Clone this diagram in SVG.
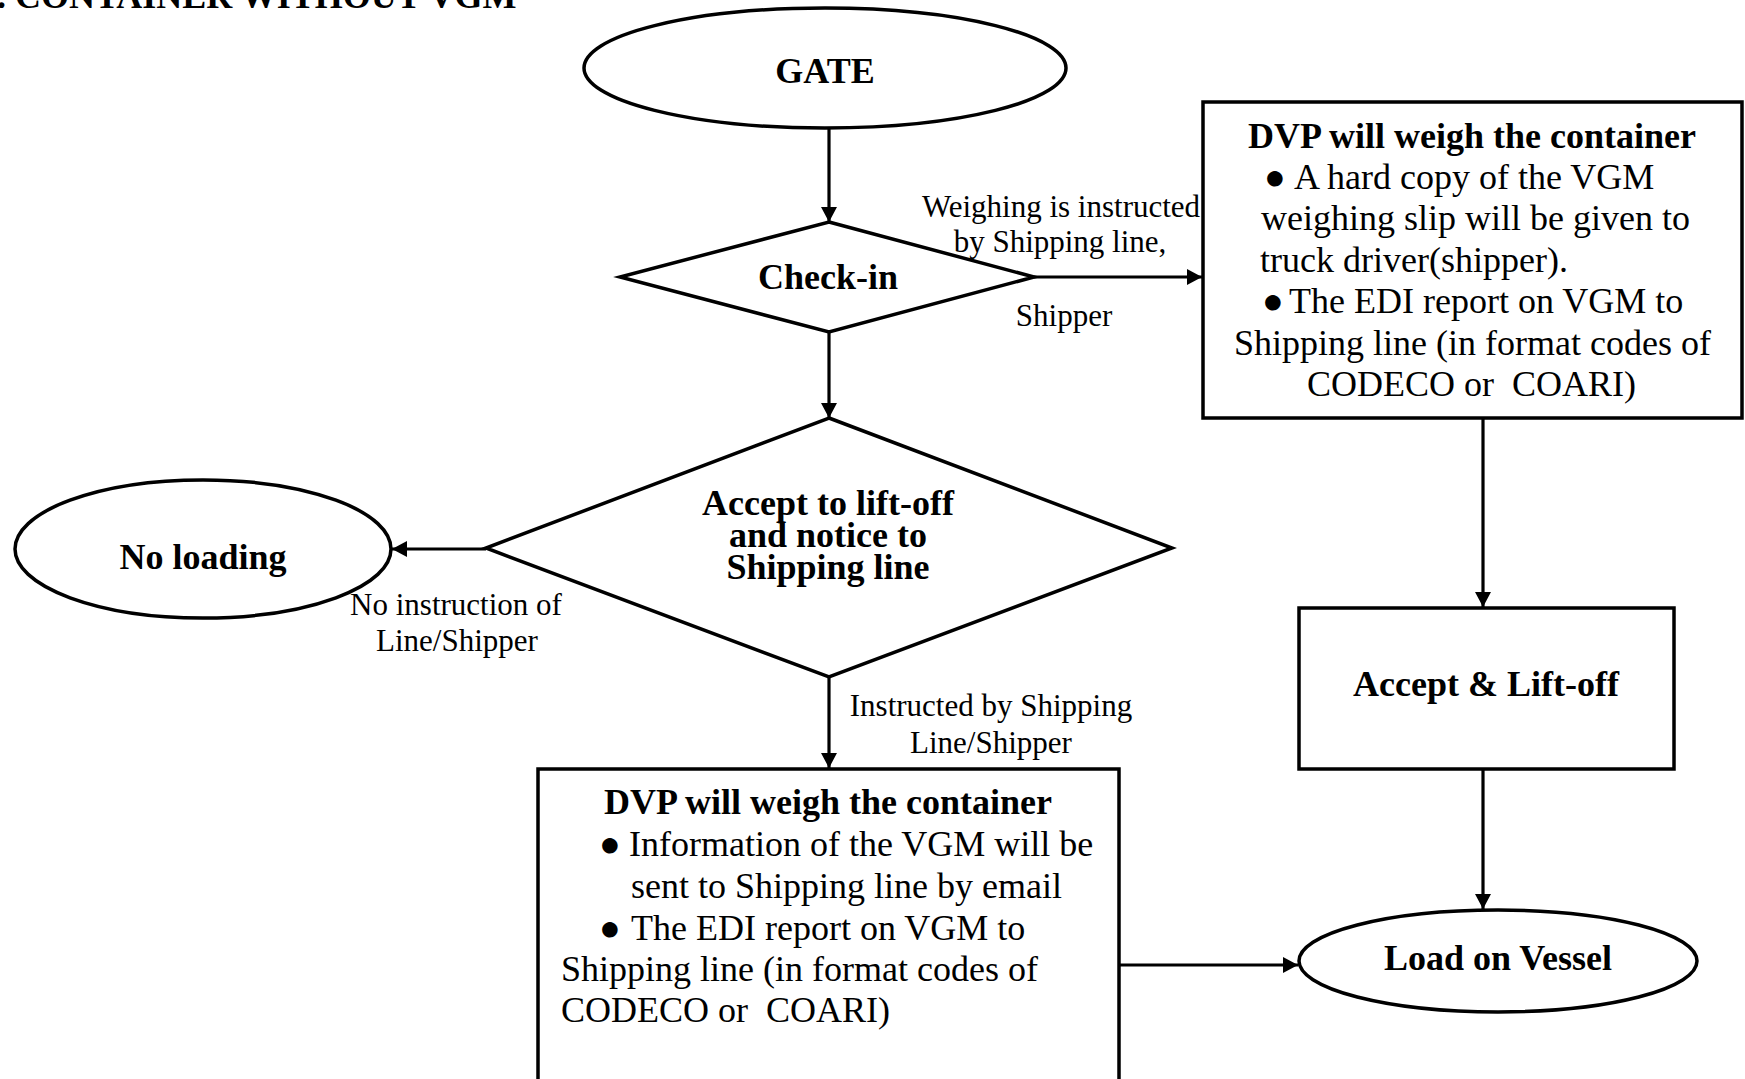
<svg xmlns="http://www.w3.org/2000/svg" width="1745" height="1079" viewBox="0 0 1745 1079">
<style>
.shape{fill:#fff;stroke:#000;stroke-width:3.5}
.conn{fill:none;stroke:#000;stroke-width:3.2}
.b{font-family:"Liberation Serif","Times New Roman",serif;font-weight:bold;font-size:36px;fill:#000}
.r{font-family:"Liberation Serif","Times New Roman",serif;font-size:36px;fill:#000;white-space:pre}
.lbl{font-family:"Liberation Serif","Times New Roman",serif;font-size:31px;fill:#000}
.c{text-anchor:middle}
</style>
<defs>
<marker id="arr" markerUnits="userSpaceOnUse" markerWidth="15" markerHeight="16" viewBox="0 0 15 16" refX="15" refY="8" orient="auto">
<path d="M0,0 L15,8 L0,16 z" fill="#000"/>
</marker>
</defs>
<rect width="1745" height="1079" fill="#fff"/>
<text class="b" x="-3" y="8" style="white-space:pre">. CONTAINER WITHOUT VGM</text>

<g id="connectors">
<line class="conn" x1="829" y1="128" x2="829" y2="222" marker-end="url(#arr)"/>
<line class="conn" x1="1034" y1="277" x2="1202" y2="277" marker-end="url(#arr)"/>
<line class="conn" x1="829" y1="332" x2="829" y2="418" marker-end="url(#arr)"/>
<line class="conn" x1="486" y1="549" x2="392" y2="549" marker-end="url(#arr)"/>
<line class="conn" x1="829" y1="677" x2="829" y2="768" marker-end="url(#arr)"/>
<line class="conn" x1="1483" y1="418" x2="1483" y2="607" marker-end="url(#arr)"/>
<line class="conn" x1="1483" y1="769" x2="1483" y2="909" marker-end="url(#arr)"/>
<line class="conn" x1="1119" y1="965" x2="1298" y2="965" marker-end="url(#arr)"/>
<text class="lbl c" x="1061" y="217">Weighing is instructed</text>
<text class="lbl c" x="1060" y="252">by Shipping line,</text>
<text class="lbl c" x="1064" y="326">Shipper</text>
<text class="lbl c" x="456" y="615">No instruction of</text>
<text class="lbl c" x="457" y="651">Line/Shipper</text>
<text class="lbl c" x="991" y="716">Instructed by Shipping</text>
<text class="lbl c" x="991" y="753">Line/Shipper</text>
</g>

<g id="gate">
<ellipse class="shape" cx="825" cy="68" rx="241" ry="60"/>
<text class="b c" x="825" y="83">GATE</text>
</g>

<g id="checkin">
<polygon class="shape" points="829,222 1034,277 829,332 620,277"/>
<text class="b c" x="828" y="289">Check-in</text>
</g>

<g id="accept-diamond">
<polygon class="shape" points="829,418 1172,548 829,677 486,548"/>
<text class="b c" x="828" y="515">Accept to lift-off</text>
<text class="b c" x="828" y="547">and notice to</text>
<text class="b c" x="828" y="579">Shipping line</text>
</g>

<g id="no-loading">
<ellipse class="shape" cx="203" cy="549" rx="188" ry="69"/>
<text class="b c" x="203" y="569">No loading</text>
</g>

<g id="weigh-right">
<rect class="shape" x="1203" y="102" width="539" height="316"/>
<text class="b c" x="1472" y="148">DVP will weigh the container</text>
<text class="r" y="189"><tspan x="1264">●</tspan><tspan x="1294">A hard copy of the VGM</tspan></text>
<text class="r" x="1261" y="230">weighing slip will be given to</text>
<text class="r" x="1260" y="272">truck driver(shipper).</text>
<text class="r" y="313"><tspan x="1262">●</tspan><tspan x="1289">The EDI report on VGM to</tspan></text>
<text class="r" x="1234" y="355">Shipping line (in format codes of</text>
<text class="r" x="1307" y="396">CODECO or  COARI)</text>
</g>

<g id="weigh-bottom">
<rect class="shape" x="538" y="769" width="581" height="340"/>
<text class="b c" x="828" y="814">DVP will weigh the container</text>
<text class="r" y="856"><tspan x="599">●</tspan><tspan x="629">Information of the VGM will be</tspan></text>
<text class="r" x="631" y="898">sent to Shipping line by email</text>
<text class="r" y="940"><tspan x="599">●</tspan><tspan x="631">The EDI report on VGM to</tspan></text>
<text class="r" x="561" y="981">Shipping line (in format codes of</text>
<text class="r" x="561" y="1022">CODECO or  COARI)</text>
</g>

<g id="accept-liftoff">
<rect class="shape" x="1299" y="608" width="375" height="161"/>
<text class="b c" x="1486" y="696">Accept &amp; Lift-off</text>
</g>

<g id="load-vessel">
<ellipse class="shape" cx="1498" cy="961" rx="199" ry="51"/>
<text class="b c" x="1498" y="970">Load on Vessel</text>
</g>
</svg>
